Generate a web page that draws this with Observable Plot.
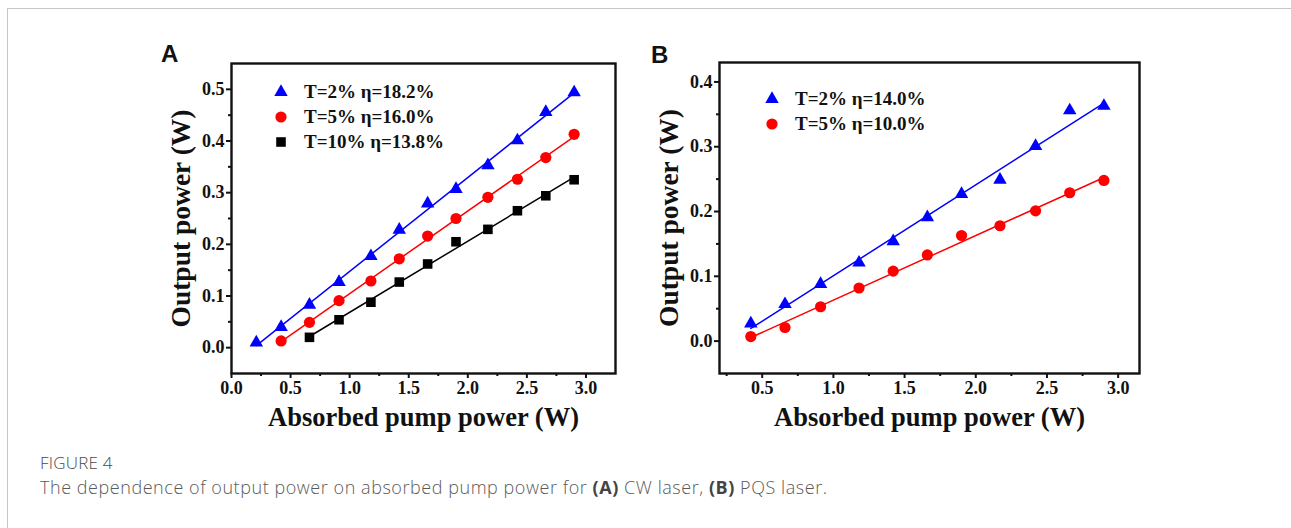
<!DOCTYPE html>
<html>
<head>
<meta charset="utf-8">
<script src="https://cdn.jsdelivr.net/npm/d3@7"></script>
<script src="https://cdn.jsdelivr.net/npm/@observablehq/plot@0.6"></script>
<style>
  html, body { margin: 0; padding: 0; background: #fff; }
  #page { position: relative; width: 1291px; height: 528px; overflow: hidden; background: #fff; }
  .border-top { position: absolute; left: 7px; top: 8px; width: 1284px; height: 0; border-top: 1.5px solid #c6c6c6; }
  .border-left { position: absolute; left: 7px; top: 8px; width: 0; height: 520px; border-left: 1.5px solid #c6c6c6; }
  .panel { position: absolute; }
  .panel-letter { position: absolute; font-family: "Liberation Sans", Arial, sans-serif; font-weight: bold; font-size: 24px; line-height: 1; color: #111; }
  .legend { position: absolute; font-family: "Liberation Serif", "Times New Roman", serif; font-weight: bold; font-size: 19px; color: #111; }
  .legend .row { position: absolute; left: 0; white-space: nowrap; display: flex; align-items: center; height: 20px; }
  .legend svg { display: block; }
  .caption-title { position: absolute; left: 40px; top: 451px; font-family: "Open Sans", "Noto Sans", sans-serif; font-weight: 300; font-size: 17px; letter-spacing: 0.2px; color: #4a4a4a; }
  .caption-text { position: absolute; left: 40px; top: 475px; font-family: "Open Sans", "Noto Sans", sans-serif; font-weight: 300; font-size: 18px; letter-spacing: 0.55px; color: #5a5a5a; white-space: nowrap; }
  .caption-text b { font-weight: 700; color: #444; }
  g[aria-label="x-axis label"] { font-size: 26.5px; }
  g[aria-label="y-axis label"] { font-size: 27.5px; }
</style>
</head>
<body>
<div id="page">
  <div class="border-top"></div>
  <div class="border-left"></div>
  <div class="panel-letter" style="left:161px; top:42px;">A</div>
  <div class="panel-letter" style="left:651px; top:43px;">B</div>
  <div id="plotA" class="panel" style="left:150px; top:30px;"></div>
  <div id="plotB" class="panel" style="left:640px; top:30px;"></div>
  <div id="legendA" class="legend" style="left:270px; top:82px;"></div>
  <div id="legendB" class="legend" style="left:761px; top:89px;"></div>
  <div class="caption-title">FIGURE 4</div>
  <div class="caption-text">The dependence of output power on absorbed pump power for <b>(A)</b> CW laser, <b>(B)</b> PQS laser.</div>
</div>
<script>
// ---------- Data ----------
// Panel A: CW laser
const xA_T2 = [0.21, 0.42, 0.66, 0.91, 1.18, 1.42, 1.66, 1.90, 2.17, 2.42, 2.66, 2.90];
const yA_T2 = [0.010, 0.040, 0.083, 0.127, 0.177, 0.228, 0.279, 0.307, 0.353, 0.401, 0.456, 0.494];
const xA_T5 = [0.42, 0.66, 0.91, 1.18, 1.42, 1.66, 1.90, 2.17, 2.42, 2.66, 2.90];
const yA_T5 = [0.013, 0.049, 0.091, 0.129, 0.172, 0.216, 0.250, 0.291, 0.326, 0.368, 0.413];
const xA_T10 = [0.66, 0.91, 1.18, 1.42, 1.66, 1.90, 2.17, 2.42, 2.66, 2.90];
const yA_T10 = [0.020, 0.054, 0.088, 0.127, 0.162, 0.205, 0.229, 0.265, 0.294, 0.325];
const labelsA = ["T=2% η=18.2%", "T=5% η=16.0%", "T=10% η=13.8%"];

// Panel B: PQS laser
const xB = [0.42, 0.66, 0.91, 1.18, 1.42, 1.66, 1.90, 2.17, 2.42, 2.66, 2.90];
const yB_T2 = [0.027, 0.057, 0.088, 0.121, 0.154, 0.191, 0.227, 0.249, 0.301, 0.356, 0.363];
const yB_T5 = [0.007, 0.021, 0.053, 0.082, 0.108, 0.133, 0.163, 0.178, 0.201, 0.229, 0.248];
const labelsB = ["T=2% η=14.0%", "T=5% η=10.0%"];

// Axis ticks
const xTicksA = [0.0, 0.5, 1.0, 1.5, 2.0, 2.5, 3.0];
const xMinorA = [0.25, 0.75, 1.25, 1.75, 2.25, 2.75];
const yTicksA = [0.0, 0.1, 0.2, 0.3, 0.4, 0.5];
const yMinorA = [0.05, 0.15, 0.25, 0.35, 0.45];
const xTicksB = [0.5, 1.0, 1.5, 2.0, 2.5, 3.0];
const xMinorB = [0.25, 0.75, 1.25, 1.75, 2.25, 2.75];
const yTicksB = [0.0, 0.1, 0.2, 0.3, 0.4];
const yMinorB = [0.05, 0.15, 0.25, 0.35];

const xLabel = "Absorbed pump power (W)";
const yLabel = "Output power (W)";

// ---------- Styling ----------
const serif = "'Liberation Serif', 'Times New Roman', serif";
const styleOf = {
  triangle: {symbol: "triangle", r: 5.0},
  circle: {symbol: "circle", r: 5.6},
  square: {symbol: "square", r: 5.4}
};

function zip(xs, ys) { return xs.map((x, i) => ({x, y: ys[i]})); }

function makePlot({series, xDomain, yDomain, xTicks, xMinor, yTicks, yMinor, width, height, margins}) {
  const marks = [
    Plot.frame({stroke: "#111", strokeWidth: 2.4}),
    Plot.axisX(xTicks, {anchor: "bottom", tickSize: 5, strokeWidth: 2, tickPadding: 3, fontSize: 18,
      tickFormat: d3.format(".1f"), label: xLabel, labelArrow: "none", labelAnchor: "center", labelOffset: 52}),
    Plot.axisX(xMinor, {anchor: "bottom", tickSize: 3, strokeWidth: 2, tickFormat: () => "", label: null}),
    Plot.axisY(yTicks, {anchor: "left", tickSize: 5, strokeWidth: 2, tickPadding: 2, fontSize: 18,
      tickFormat: d3.format(".1f"), label: yLabel, labelArrow: "none", labelAnchor: "center", labelOffset: 61}),
    Plot.axisY(yMinor, {anchor: "left", tickSize: 3, strokeWidth: 2, tickFormat: () => "", label: null})
  ];
  for (const s of series) {
    marks.push(Plot.linearRegressionY(s.data, {x: "x", y: "y", stroke: s.color, strokeWidth: 1.5, ci: 0}));
  }
  for (const s of series) {
    marks.push(Plot.dot(s.data, {x: "x", y: "y", fill: s.color, stroke: "none", ...styleOf[s.shape]}));
  }
  return Plot.plot({
    width, height,
    marginLeft: margins[0], marginRight: margins[1], marginTop: margins[2], marginBottom: margins[3],
    x: {domain: xDomain},
    y: {domain: yDomain},
    style: {fontFamily: serif, fontWeight: "bold", color: "#111", background: "transparent", overflow: "visible"},
    marks
  });
}

function makeLegend(el, series) {
  series.forEach((s, i) => {
    const row = document.createElement("div");
    row.className = "row";
    row.style.top = (i * 25) + "px";
    const st = styleOf[s.shape];
    const sym = {triangle: d3.symbolTriangle, circle: d3.symbolCircle, square: d3.symbolSquare}[s.shape];
    const size = Math.PI * st.r * st.r;
    const svg = d3.create("svg").attr("width", 22).attr("height", 20);
    svg.append("path").attr("d", d3.symbol(sym, size)()).attr("transform", "translate(11,10)").attr("fill", s.color);
    row.appendChild(svg.node());
    const t = document.createElement("span");
    t.textContent = s.label;
    t.style.marginLeft = "12px";
    row.appendChild(t);
    el.appendChild(row);
  });
}

const seriesA = [
  {data: zip(xA_T2, yA_T2), color: "#0000ff", shape: "triangle", label: labelsA[0]},
  {data: zip(xA_T5, yA_T5), color: "#ff0000", shape: "circle", label: labelsA[1]},
  {data: zip(xA_T10, yA_T10), color: "#000000", shape: "square", label: labelsA[2]}
];
const seriesB = [
  {data: zip(xB, yB_T2), color: "#0000ff", shape: "triangle", label: labelsB[0]},
  {data: zip(xB, yB_T5), color: "#ff0000", shape: "circle", label: labelsB[1]}
];

document.getElementById("plotA").appendChild(makePlot({
  series: seriesA, xDomain: [0, 3.25], yDomain: [-0.05, 0.55],
  xTicks: xTicksA, xMinor: xMinorA, yTicks: yTicksA, yMinor: yMinorA,
  width: 480, height: 410, margins: [81, 15, 33, 67]
}));
document.getElementById("plotB").appendChild(makePlot({
  series: seriesB, xDomain: [0.2, 3.15], yDomain: [-0.05, 0.43],
  xTicks: xTicksB, xMinor: xMinorB, yTicks: yTicksB, yMinor: yMinorB,
  width: 520, height: 410, margins: [79, 21, 32, 67]
}));
makeLegend(document.getElementById("legendA"), seriesA);
makeLegend(document.getElementById("legendB"), seriesB);
</script>
</body>
</html>
